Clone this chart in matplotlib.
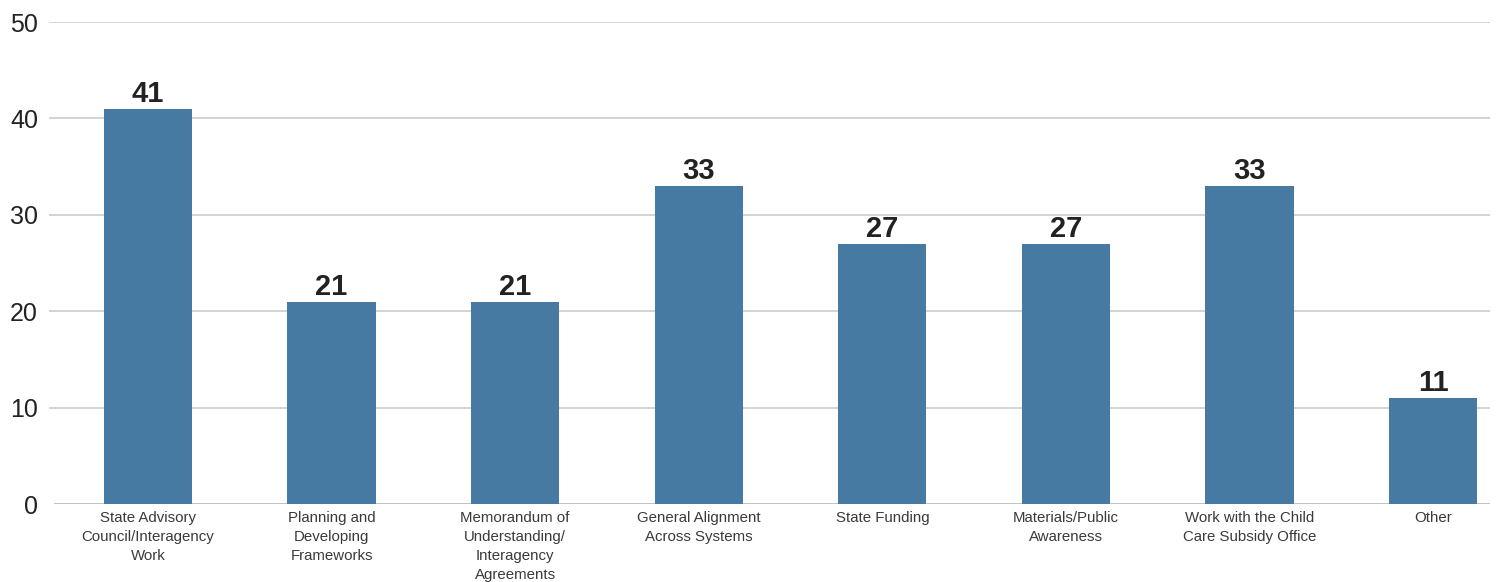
import matplotlib
matplotlib.use("Agg")
import matplotlib.pyplot as plt

categories = [
    "State Advisory\nCouncil/Interagency\nWork",
    "Planning and\nDeveloping\nFrameworks",
    "Memorandum of\nUnderstanding/\nInteragency\nAgreements",
    "General Alignment\nAcross Systems",
    "State Funding",
    "Materials/Public\nAwareness",
    "Work with the Child\nCare Subsidy Office",
    "Other",
]
values = [41, 21, 21, 33, 27, 27, 33, 11]
y_ticks = [0, 10, 20, 30, 40, 50]

plt.rcParams["font.family"] = ["Liberation Sans", "DejaVu Sans"]

fig = plt.figure(figsize=(14.98, 5.82), dpi=100)
ax = fig.add_axes([49 / 1498, 1 - 504 / 582, (1490 - 49) / 1498, (504 - 22) / 582])

bar_color = "#477aa2"
x = list(range(len(categories)))
ax.bar(x, values, width=0.48, color=bar_color, zorder=3)

for xi, v in zip(x, values):
    ax.text(xi, v + 0.1, str(v), ha="center", va="bottom",
            fontsize=21, fontweight="bold", color="#222222", zorder=4)

ax.set_xlim(-0.539, 7.31)
ax.set_ylim(0, 50)
ax.set_yticks(y_ticks)
ax.set_yticklabels([str(t) for t in y_ticks], fontsize=18, color="#222222")
ax.set_xticks(x)
ax.set_xticklabels(categories, fontsize=10.8, color="#3a3a3a", linespacing=1.45)
ax.tick_params(axis="both", length=0)
ax.tick_params(axis="y", pad=8)
ax.tick_params(axis="x", pad=5)

for t in y_ticks[1:]:
    ax.axhline(t, color="#c8c8c8", linewidth=1.1, zorder=1)
ax.axhline(0, xmin=6 / 1441, xmax=1, color="#bdbdbd", linewidth=1.3, zorder=2)

for s in ax.spines.values():
    s.set_visible(False)

fig.savefig("out.png", dpi=100, facecolor="white")
